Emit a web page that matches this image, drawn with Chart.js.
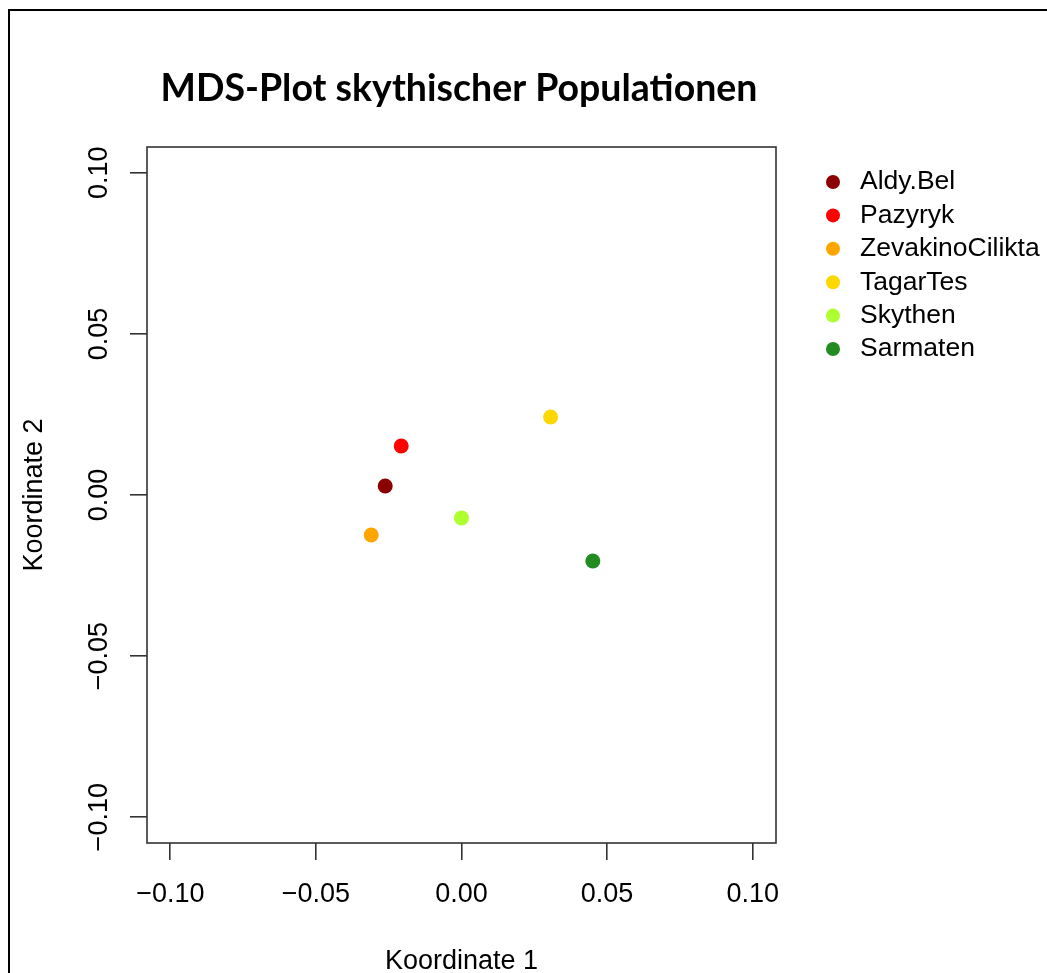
<!DOCTYPE html>
<html><head><meta charset="utf-8">
<script src="https://cdn.jsdelivr.net/npm/chart.js@4"></script>
<style>
html,body{margin:0;padding:0;background:#fff;overflow:hidden}
#wrap{position:relative;width:1047px;height:973px}
#frame{position:absolute;left:8px;top:9px;width:1100px;height:1100px;border-left:2px solid #000;border-top:2px solid #000;box-sizing:border-box;pointer-events:none}
canvas{position:absolute;left:0;top:0}
</style></head>
<body><div id="wrap"><canvas id="c" width="1047" height="973"></canvas><div id="frame"></div></div>
<script>
const categories = ['Aldy.Bel','Pazyryk','ZevakinoCilikta','TagarTes','Skythen','Sarmaten'];
const xValues = [-0.0262, -0.0207, -0.0310, 0.0306, 0.0000, 0.0451];
const yValues = [0.0028, 0.0152, -0.0124, 0.0242, -0.0071, -0.0205];
const colors = ['#8B0000','#FF0000','#FFA500','#FFD700','#ADFF2F','#228B22'];
const xTicks = [-0.10, -0.05, 0.00, 0.05, 0.10];
const yTicks = [-0.10, -0.05, 0.00, 0.05, 0.10];
const titleText = 'MDS-Plot skythischer Populationen';
const xTitle = 'Koordinate 1';
const yTitle = 'Koordinate 2';

const FONT = '"Liberation Sans", Arial, sans-serif';
const fmt = v => (v < 0 ? '\u2212' : '') + Math.abs(v).toFixed(2);

const datasets = categories.map((name, i) => ({
  label: name,
  data: [{x: xValues[i], y: yValues[i]}],
  backgroundColor: colors[i],
  borderWidth: 0,
  pointRadius: 7.5,
  pointHoverRadius: 7.5
}));

const decor = {
  id: 'decor',
  afterDraw(chart) {
    const ctx = chart.ctx, a = chart.chartArea;
    const ys = chart.scales.y;
    ctx.save();
    // box
    ctx.strokeStyle = '#333';
    ctx.lineWidth = 1.6;
    ctx.strokeRect(a.left, a.top, a.right - a.left, a.bottom - a.top);
    // y tick labels (rotated, R style)
    ctx.fillStyle = '#000';
    ctx.font = '27px ' + FONT;
    ctx.textAlign = 'center';
    ctx.textBaseline = 'middle';
    yTicks.forEach(v => {
      const py = ys.getPixelForValue(v);
      ctx.save();
      ctx.translate(100, py);
      ctx.rotate(-Math.PI / 2);
      ctx.fillText(fmt(v), 0, 0);
      ctx.restore();
    });
    // axis titles
    ctx.fillText(xTitle, (a.left + a.right) / 2, 962);
    ctx.save();
    ctx.translate(35, (a.top + a.bottom) / 2);
    ctx.rotate(-Math.PI / 2);
    ctx.fillText(yTitle, 0, 0);
    ctx.restore();
    // main title
    let size = 36;
    ctx.font = 'bold ' + size + 'px Lato, "Open Sans", sans-serif';
    const w = ctx.measureText(titleText).width;
    size = size * 597 / w;
    ctx.font = 'bold ' + size.toFixed(2) + 'px Lato, "Open Sans", sans-serif';
    ctx.fillText(titleText, 459, 89);
    // legend
    ctx.font = '26.5px ' + FONT;
    ctx.textAlign = 'left';
    categories.forEach((name, i) => {
      const cy = 182 + i * 33.4;
      ctx.beginPath();
      ctx.fillStyle = colors[i];
      ctx.arc(833, cy, 7, 0, Math.PI * 2);
      ctx.fill();
      ctx.fillStyle = '#000';
      ctx.fillText(name, 860, cy);
    });
    ctx.restore();
  }
};

new Chart(document.getElementById('c'), {
  type: 'scatter',
  data: { datasets },
  options: {
    responsive: false,
    animation: false,
    devicePixelRatio: 1,
    events: [],
    layout: { padding: { left: 0, top: 147, right: 271, bottom: 0 } },
    plugins: { legend: { display: false }, title: { display: false }, tooltip: { enabled: false } },
    scales: {
      x: {
        type: 'linear', position: 'bottom', min: -0.108, max: 0.108,
        afterBuildTicks: s => { s.ticks = xTicks.map(v => ({ value: v })); },
        afterFit: s => { s.height = 130; },
        grid: { display: true, drawOnChartArea: false, drawTicks: true, tickLength: 17, color: '#333', lineWidth: 1.6 },
        border: { display: false },
        ticks: { font: { family: FONT, size: 27 }, color: '#000', padding: 18, maxRotation: 0, autoSkip: false, callback: v => fmt(v) }
      },
      y: {
        type: 'linear', position: 'left', min: -0.108, max: 0.108,
        afterBuildTicks: s => { s.ticks = yTicks.map(v => ({ value: v })); },
        afterFit: s => { s.width = 147; },
        grid: { display: true, drawOnChartArea: false, drawTicks: true, tickLength: 17, color: '#333', lineWidth: 1.6 },
        border: { display: false },
        ticks: { display: false }
      }
    }
  },
  plugins: [decor]
});
</script>
</body></html>
